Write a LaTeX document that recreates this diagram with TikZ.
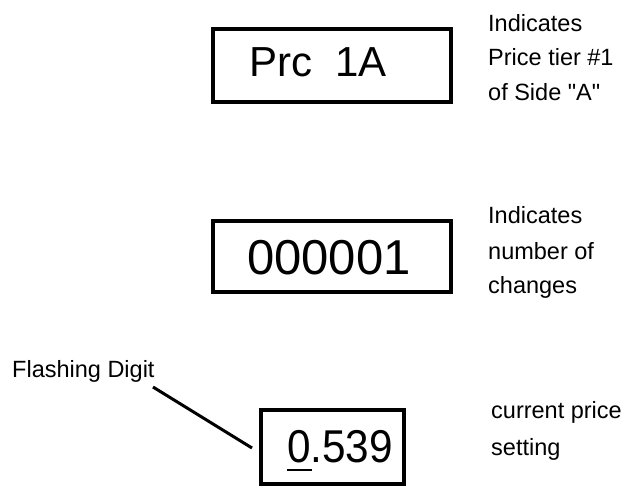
\documentclass[tikz,border=0pt]{standalone}
\usepackage{fontspec}
\setmainfont{Liberation Sans}
\newfontfamily\arialfont{Liberation Sans}
\begin{document}
\begin{tikzpicture}[x=1pt,y=-1pt,
  dispbox/.style={draw=black,line width=3.2pt},
  bigtxt/.style={anchor=base,inner sep=0pt,font=\arialfont\fontsize{42}{50}\selectfont},
  lbl/.style={anchor=base west,inner sep=0pt,font=\arialfont\fontsize{23.5}{30}\selectfont},
  lead/.style={line width=3pt}]
\useasboundingbox[fill=white] (0,0) rectangle (623,487);
% box 1
\draw[dispbox] (213,29) rectangle (451,102);
\node[bigtxt] (t1) at (318,77) {Prc\ \ 1A};
\node[lbl] (l1a) at (488,32) {Indicates};
\node[lbl] (l1b) at (488,66) {Price tier \#1};
\node[lbl] (l1c) at (488,100) {of Side "A"};
% box 2
\draw[dispbox] (213,221) rectangle (451,292);
\node[bigtxt,font=\arialfont\fontsize{49}{56}\selectfont] (t2) at (329,274) {000001};
\node[lbl] (l2a) at (488,223) {Indicates};
\node[lbl] (l2b) at (488,259) {number of};
\node[lbl] (l2c) at (488,293) {changes};
% box 3
\draw[dispbox] (261,410) rectangle (404,484);
\node[bigtxt,font=\arialfont\fontsize{46}{54}\selectfont,xscale=0.92] (t3) at (340,462) {0.539};
\draw[line width=2pt] (287,470) -- (312,470);
\node[lbl] (l3a) at (491,418) {current price};
\node[lbl] (l3b) at (491,455) {setting};
% flashing digit
\node[lbl] (fd) at (12,377) {Flashing Digit};
\coordinate (fs) at (153,387);
\coordinate (fe) at (252,448);
\draw[lead] (fs) -- (fe);
\end{tikzpicture}
\end{document}
